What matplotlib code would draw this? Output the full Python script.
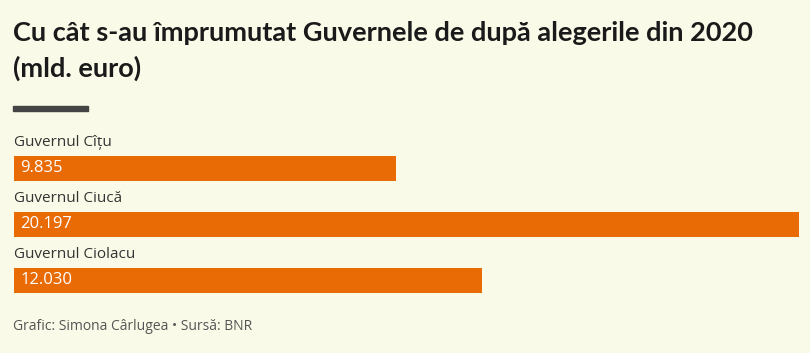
import matplotlib
matplotlib.use("Agg")
import matplotlib.pyplot as plt
from matplotlib.patches import Rectangle

categories = ["Guvernul Cîțu", "Guvernul Ciucă", "Guvernul Ciolacu"]
values = [9.835, 20.197, 12.030]
value_labels = ["9.835", "20.197", "12.030"]
title = "Cu cât s-au împrumutat Guvernele de după alegerile din 2020\n(mld. euro)"
footer = "Grafic: Simona Cârlugea • Sursă: BNR"

BG = "#fafae8"
ORANGE = "#e86b05"
W, H = 810, 353
fig = plt.figure(figsize=(W/100, H/100), dpi=100, facecolor=BG)

def fx(px): return px / W
def fy(py): return 1 - py / H

fig.text(fx(13), fy(21), title, ha="left", va="top", fontsize=19.5, fontweight="bold",
         family=["Lato", "DejaVu Sans"], color="#1a1a1a", linespacing=1.5)
fig.patches.append(Rectangle((fx(13), fy(111)), fx(88)-fx(13), 5/H, transform=fig.transFigure,
                             color="#444444", figure=fig))

ax = fig.add_axes([fx(14), fy(293), fx(799)-fx(14), (293-156)/H])
ax.set_facecolor(BG)
h = 25/56
ax.barh(range(len(values)), values, height=h, color=ORANGE)
ax.set_xlim(0, max(values))
ax.set_ylim(2 + h/2, -h/2)
ax.axis("off")
for i, (c, v, lab) in enumerate(zip(categories, values, value_labels)):
    ax.text(0, i - h/2 - 0.25, c, ha="left", va="center", fontsize=11,
            family=["Open Sans", "DejaVu Sans"], color="#333333", transform=ax.transData)
    ax.annotate(lab, (0, i), xytext=(4.5, 0), textcoords="offset points", ha="left", va="center",
                fontsize=12, color="white", family=["Open Sans", "DejaVu Sans"], fontweight="medium")

fig.text(fx(13), fy(327), footer, ha="left", va="center", fontsize=10,
         family=["Open Sans", "DejaVu Sans"], color="#555555")

fig.savefig("out.png", dpi=100, facecolor=BG)
